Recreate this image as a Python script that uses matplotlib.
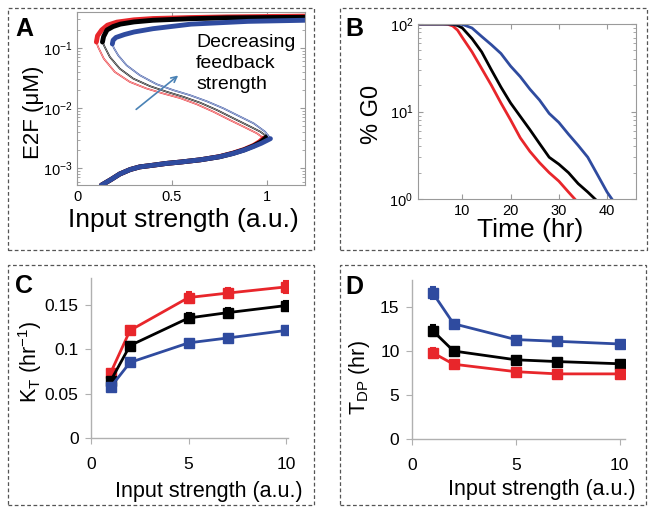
import numpy as np
import matplotlib
matplotlib.use("Agg")
import matplotlib.pyplot as plt
from matplotlib.patches import Rectangle

plt.rcParams['font.family'] = ['Liberation Sans', 'DejaVu Sans']
plt.rcParams['mathtext.fontset'] = 'custom'
plt.rcParams['mathtext.rm'] = 'Liberation Sans'
plt.rcParams['mathtext.it'] = 'Liberation Sans:italic'

RED = '#e8262b'
BLACK = '#000000'
BLUE = '#2f4b9f'

# ---- panel A : bistable E2F curves (lower / middle / upper branch) ----
a_red_low_x = [0.128, 0.18, 0.225, 0.28, 0.33, 0.40, 0.47, 0.55, 0.65, 0.75, 0.82, 0.88, 0.93, 0.96, 0.982]
a_red_low_y = [5.2e-4, 6.5e-4, 8.0e-4, 9.5e-4, 1.05e-3, 1.12e-3, 1.2e-3, 1.27e-3, 1.38e-3, 1.56e-3, 1.78e-3, 2.05e-3, 2.4e-3, 2.75e-3, 3.17e-3]
a_red_mid_x = [0.982, 0.947, 0.877, 0.806, 0.718, 0.63, 0.542, 0.454, 0.366, 0.278, 0.199, 0.141, 0.111, 0.102]
a_red_mid_y = [3.17e-3, 3.8e-3, 4.9e-3, 6.3e-3, 8.7e-3, 0.0116, 0.0147, 0.0175, 0.0212, 0.0273, 0.040, 0.0666, 0.104, 0.126]
a_red_up_x = [0.102, 0.108, 0.13, 0.16, 0.21, 0.3, 0.4, 0.6, 0.79, 1.2]
a_red_up_y = [0.126, 0.16, 0.2, 0.24, 0.27, 0.295, 0.31, 0.322, 0.33, 0.34]

a_blk_low_x = [0.128, 0.18, 0.225, 0.28, 0.33, 0.40, 0.47, 0.55, 0.65, 0.75, 0.82, 0.88, 0.93, 0.97, 1.0]
a_blk_low_y = [5.2e-4, 6.5e-4, 8.0e-4, 9.5e-4, 1.05e-3, 1.12e-3, 1.2e-3, 1.27e-3, 1.38e-3, 1.55e-3, 1.76e-3, 2.02e-3, 2.35e-3, 2.75e-3, 3.35e-3]
a_blk_mid_x = [1.0, 0.965, 0.894, 0.824, 0.736, 0.648, 0.56, 0.472, 0.384, 0.296, 0.225, 0.173, 0.146, 0.134]
a_blk_mid_y = [3.35e-3, 4.05e-3, 5.25e-3, 6.75e-3, 9.3e-3, 0.0123, 0.0154, 0.0187, 0.0232, 0.031, 0.0454, 0.071, 0.104, 0.126]
a_blk_up_x = [0.134, 0.14, 0.158, 0.19, 0.228, 0.3, 0.4, 0.6, 0.79, 1.2]
a_blk_up_y = [0.126, 0.155, 0.2, 0.228, 0.25, 0.272, 0.29, 0.308, 0.318, 0.325]

a_blu_low_x = [0.128, 0.18, 0.225, 0.28, 0.33, 0.40, 0.47, 0.55, 0.65, 0.75, 0.82, 0.88, 0.93, 0.97, 1.0, 1.018]
a_blu_low_y = [5.2e-4, 6.5e-4, 8.0e-4, 9.5e-4, 1.05e-3, 1.12e-3, 1.2e-3, 1.27e-3, 1.38e-3, 1.55e-3, 1.75e-3, 2.0e-3, 2.3e-3, 2.6e-3, 2.9e-3, 3.1e-3]
a_blu_mid_x = [1.018, 0.99, 0.93, 0.859, 0.771, 0.683, 0.595, 0.507, 0.419, 0.331, 0.261, 0.217, 0.194, 0.186]
a_blu_mid_y = [3.1e-3, 4.05e-3, 5.57e-3, 7.2e-3, 9.9e-3, 0.013, 0.0164, 0.0199, 0.025, 0.0352, 0.0516, 0.0755, 0.1, 0.117]
a_blu_up_x = [0.186, 0.19, 0.205, 0.25, 0.3, 0.4, 0.6, 0.9, 1.2]
a_blu_up_y = [0.117, 0.135, 0.15, 0.168, 0.185, 0.21, 0.25, 0.278, 0.29]

# ---- panel B : % cells remaining in G0 over time ----
b_red_t = [0, 6, 7, 8, 9, 10, 12, 14, 16, 18, 20, 22, 24, 26, 28, 30, 32, 33.3]
b_red_y = [100, 100, 99, 95, 85, 70, 48, 31, 20, 12.5, 8, 5, 3.5, 2.6, 2.0, 1.6, 1.2, 1.0]
b_blk_t = [0, 7, 8, 9, 10, 12, 14, 16, 18, 20, 22, 24, 26, 28, 30, 32, 34, 36, 37.5]
b_blk_y = [100, 100, 99, 96, 90, 68, 48, 30, 19, 12.5, 8.8, 6.2, 4.3, 3.0, 2.5, 2.0, 1.5, 1.2, 1.0]
b_blu_t = [0, 9, 10, 12, 14, 16, 18, 20, 22, 24, 26, 28, 30, 32, 34, 36, 38, 40, 41]
b_blu_y = [100, 100, 99, 90, 72, 58, 46, 33, 25, 18, 13.5, 9.5, 7.5, 5.5, 4.1, 3.0, 1.9, 1.2, 1.0]

# ---- panels C and D ----
input_x = [1, 2, 5, 7, 10]
kt_red = [0.073, 0.121, 0.158, 0.163, 0.170]
kt_red_err = [0.003, 0.004, 0.006, 0.006, 0.007]
kt_blk = [0.064, 0.104, 0.135, 0.141, 0.149]
kt_blk_err = [0.003, 0.004, 0.006, 0.005, 0.005]
kt_blu = [0.057, 0.085, 0.107, 0.1125, 0.121]
kt_blu_err = [0.002, 0.003, 0.003, 0.003, 0.004]
kt_ticks = [0, 0.05, 0.1, 0.15]
kt_labels = ['0', '0.05', '0.1', '0.15']

tdp_red = [9.8, 8.5, 7.65, 7.4, 7.4]
tdp_red_err = [0.5, 0.3, 0.3, 0.2, 0.2]
tdp_blk = [12.3, 10.0, 9.0, 8.8, 8.55]
tdp_blk_err = [0.6, 0.3, 0.2, 0.2, 0.2]
tdp_blu = [16.6, 13.1, 11.3, 11.1, 10.8]
tdp_blu_err = [0.7, 0.4, 0.3, 0.2, 0.2]
tdp_ticks = [0, 5, 10, 15]

W, H = 656, 514
fig = plt.figure(figsize=(W / 100, H / 100), dpi=100)


def ax_at(l, t, r, b):
    return fig.add_axes([l / W, 1 - b / H, (r - l) / W, (b - t) / H])


def ftext(x, y, s, **kw):
    fig.text(x / W, 1 - y / H, s, **kw)


def box(l, t, r, b):
    fig.patches.append(Rectangle((l / W, 1 - b / H), (r - l) / W, (b - t) / H,
                                 transform=fig.transFigure, fill=False,
                                 ls=(0, (3, 2)), lw=0.9, ec='#555555'))


for bx in [(8, 8, 314, 250), (340, 8, 647, 250), (8, 265, 314, 505), (340, 265, 646, 505)]:
    box(*bx)

# ---------- A ----------
axA = ax_at(77, 12, 305, 185)
for lx, ly, mx, my, ux, uy, c in [
        (a_red_low_x, a_red_low_y, a_red_mid_x, a_red_mid_y, a_red_up_x, a_red_up_y, RED),
        (a_blk_low_x, a_blk_low_y, a_blk_mid_x, a_blk_mid_y, a_blk_up_x, a_blk_up_y, BLACK),
        (a_blu_low_x, a_blu_low_y, a_blu_mid_x, a_blu_mid_y, a_blu_up_x, a_blu_up_y, BLUE)]:
    axA.plot(mx, my, color=c, lw=1.2, solid_capstyle='round')
    axA.plot(mx, my, color='white', lw=0.35)
    axA.plot(lx, ly, color=c, lw=3.5, solid_capstyle='round')
    axA.plot(ux, uy, color=c, lw=3.5, solid_capstyle='round')
axA.set_yscale('log')
axA.set_xlim(0, 1.2)
axA.set_ylim(5.25e-4, 0.398)
axA.set_xticks([0, 0.5, 1])
axA.set_xticklabels(['0', '0.5', '1'])
axA.set_yticks([1e-3, 1e-2, 1e-1])
axA.annotate('', xy=(0.544, 0.0373), xytext=(0.3, 0.0089),
             arrowprops=dict(arrowstyle='->', color='#4a82b5', lw=1.2))
axA.text(0.627, 0.17, 'Decreasing\nfeedback\nstrength', fontsize=14, va='top',
         ha='left', linespacing=1.3)

# ---------- B ----------
axB = ax_at(418, 24, 636, 199)
axB.plot(b_red_t, b_red_y, color=RED, lw=2)
axB.plot(b_blk_t, b_blk_y, color=BLACK, lw=2)
axB.plot(b_blu_t, b_blu_y, color=BLUE, lw=2)
axB.set_yscale('log')
axB.set_xlim(0.8, 46)
axB.set_ylim(1, 100)
axB.set_xticks([10, 20, 30, 40])
axB.set_yticks([1, 10, 100])

for ax in (axA, axB):
    for s in ax.spines.values():
        s.set_color('#9a9a9a')
    ax.tick_params(which='both', direction='in', top=True, right=True,
                   colors='#9a9a9a', labelcolor='black', labelsize=10.5)
    ax.tick_params(which='minor', length=2)
    ax.tick_params(which='major', length=3.5)

ftext(33, 112, 'E2F (\u03bcM)', fontsize=16, rotation=90, ha='center', va='center')
ftext(183, 220, 'Input strength (a.u.)', fontsize=19, ha='center', va='center')
ftext(372, 114, '% G0', fontsize=17, rotation=90, ha='center', va='center')
ftext(530, 230, 'Time (hr)', fontsize=19, ha='center', va='center')


# ---------- C and D ----------
def excel_style(ax):
    for s in ('top', 'right'):
        ax.spines[s].set_visible(False)
    for s in ('left', 'bottom'):
        ax.spines[s].set_color('#b0b0b0')
        ax.spines[s].set_linewidth(1.0)
    ax.tick_params(direction='out', length=4, colors='#b0b0b0',
                   labelcolor='black', labelsize=12.5, pad=5)
    ax.tick_params(axis='x', pad=10)
    ax.set_xticks([0, 5, 10])


def series(ax, y, e, c):
    ax.errorbar(input_x, y, yerr=e, color=c, lw=2, marker='s', ms=6.5,
                capsize=2.5, elinewidth=1.5, capthick=1.5)


axC = ax_at(91, 278, 288, 438)
series(axC, kt_red, kt_red_err, RED)
series(axC, kt_blk, kt_blk_err, BLACK)
series(axC, kt_blu, kt_blu_err, BLUE)
axC.set_xlim(0, 10.1)
axC.set_ylim(0, 0.18)
excel_style(axC)
axC.set_yticks(kt_ticks)
axC.set_yticklabels(kt_labels)

axD = ax_at(412, 280, 625, 439)
series(axD, tdp_blu, tdp_blu_err, BLUE)
series(axD, tdp_blk, tdp_blk_err, BLACK)
series(axD, tdp_red, tdp_red_err, RED)
axD.set_xlim(0, 10.25)
axD.set_ylim(0, 18.07)
excel_style(axD)
axD.set_yticks(tdp_ticks)

ftext(30, 362, 'K$_\\mathregular{T}$ (hr$^\\mathregular{-1}$)', fontsize=15.5,
      rotation=90, ha='center', va='center')
ftext(209, 491, 'Input strength (a.u.)', fontsize=15.5, ha='center', va='center')
ftext(360, 378, 'T$_\\mathregular{DP}$ (hr)', fontsize=15.5, rotation=90,
      ha='center', va='center')
ftext(542, 490, 'Input strength (a.u.)', fontsize=15.5, ha='center', va='center')

# panel letters
for x, y, s in [(15, 29, 'A'), (345, 29, 'B'), (15, 286, 'C'), (345, 287, 'D')]:
    ftext(x, y, s, fontsize=18, fontweight='bold', ha='left', va='center')

fig.savefig('out.png', dpi=100)
